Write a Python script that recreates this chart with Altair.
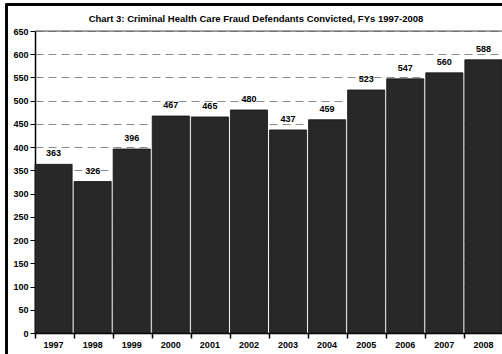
import altair as alt
import pandas as pd

years = ["1997", "1998", "1999", "2000", "2001", "2002", "2003", "2004", "2005", "2006", "2007", "2008"]
convicted = [363, 326, 396, 467, 465, 480, 437, 459, 523, 547, 560, 588]
title_text = "Chart 3: Criminal Health Care Fraud Defendants Convicted, FYs 1997-2008"
y_ticks = [0, 50, 100, 150, 200, 250, 300, 350, 400, 450, 500, 550, 600, 650]
y_max = [650]

df = pd.DataFrame({"year": years, "value": convicted})

W, H = 467, 302
FONT = "Liberation Sans"

x = alt.X("year:N", sort=years, title=None,
          scale=alt.Scale(paddingInner=0.05, paddingOuter=0.0),
          axis=alt.Axis(labelAngle=0, labelFont=FONT, labelFontSize=9, labelFontWeight="bold",
                        labelColor="black", domainColor="black", domainWidth=1.5,
                        tickColor="black", tickSize=5, tickWidth=1.5, bandPosition=0,
                        labelPadding=2, labelOverlap=False))
y = alt.Y("value:Q", title=None,
          scale=alt.Scale(domain=[0, 650], nice=False),
          axis=alt.Axis(values=y_ticks, labelFont=FONT, labelFontSize=9,
                        labelFontWeight="bold", labelColor="black", domainColor="black",
                        domainWidth=1.5, tickColor="black", tickSize=5, labelPadding=2,
                        labelOverlap=False, labelFlush=False,
                        grid=True, gridColor="#8a8a8a", gridDash=[8, 5], gridWidth=1))

bars = alt.Chart(df).mark_bar(color="#282828", stroke="#111111", strokeWidth=0.8).encode(x=x, y=y)
labels = alt.Chart(df).mark_text(font=FONT, fontSize=9, fontWeight="bold", baseline="bottom",
                                 dy=-6, color="black").encode(x=x, y=y, text="value:Q")

top_line = alt.Chart(pd.DataFrame({"value": y_max})).mark_rule(color="#555555", strokeWidth=1.2).encode(
    y=y, x=alt.value(0), x2=alt.value(W))

frame = alt.Chart(df).mark_rect(fill=None, stroke="black", strokeWidth=1.5).encode(
    x=alt.value(-28.5), x2=alt.value(W + 60), y=alt.value(-26.5), y2=alt.value(H + 60))

title = alt.Chart(pd.DataFrame({"t": [title_text]})).mark_text(
    font=FONT, fontSize=9.5, fontWeight="bold", color="black", baseline="middle", align="center"
).encode(x=alt.value(221), y=alt.value(-12), text="t:N")

chart = alt.layer(bars, labels, top_line, frame, title).properties(
    width=W, height=H,
    autosize=alt.AutoSizeParams(type="none"),
    padding={"left": 35, "top": 31, "right": 0, "bottom": 21},
).configure_view(stroke=None).configure(background="white")

chart.save("out.html", embed_options={"renderer": "svg", "actions": False})
